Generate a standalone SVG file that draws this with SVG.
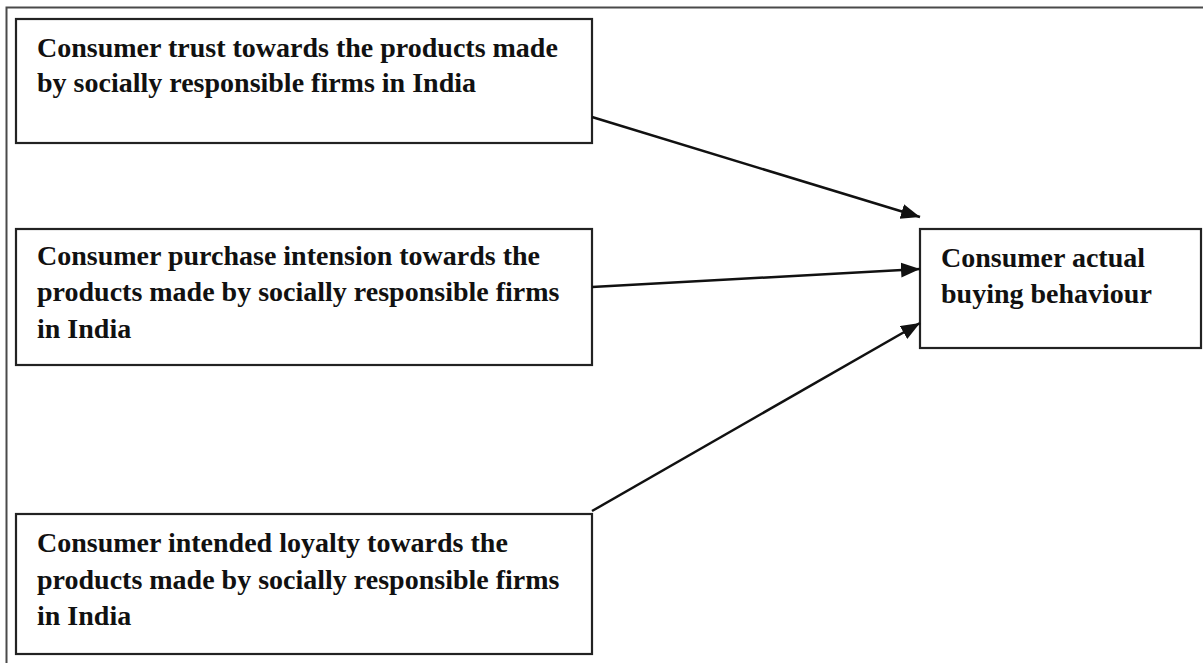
<svg xmlns="http://www.w3.org/2000/svg" width="1203" height="663" viewBox="0 0 1203 663">
<style>
.box{fill:#fff;stroke:#222;stroke-width:2.2}
.t{font-family:"Liberation Serif","Times New Roman",serif;font-weight:bold;font-size:28px;fill:#111}
.c{stroke:#111;stroke-width:2.5;fill:none}
</style>
<defs>
<marker id="ah" markerUnits="userSpaceOnUse" markerWidth="20" markerHeight="16" refX="19" refY="7.5" orient="auto">
<path d="M0,0 L19,7.5 L0,15 z" fill="#111"/>
</marker>
</defs>
<rect width="1203" height="663" fill="#fff"/>
<path d="M6.5,663 V7.5 H1203" fill="none" stroke="#4a4a4a" stroke-width="2"/>
<g id="trust">
<rect class="box" x="16" y="19" width="576" height="124"/>
<text class="t" x="37" y="57">Consumer trust towards the products made</text>
<text class="t" x="37" y="92">by socially responsible firms in India</text>
</g>
<g id="intension">
<rect class="box" x="16" y="229" width="576" height="136"/>
<text class="t" x="37" y="265">Consumer purchase intension towards the</text>
<text class="t" x="37" y="301">products made by socially responsible firms</text>
<text class="t" x="37" y="338">in India</text>
</g>
<g id="loyalty">
<rect class="box" x="16" y="514" width="576" height="140"/>
<text class="t" x="37" y="552">Consumer intended loyalty towards the</text>
<text class="t" x="37" y="589">products made by socially responsible firms</text>
<text class="t" x="37" y="625">in India</text>
</g>
<g id="behaviour">
<rect class="box" x="920" y="229" width="281" height="119"/>
<text class="t" x="941" y="267">Consumer actual</text>
<text class="t" x="941" y="303">buying behaviour</text>
</g>
<g id="connectors">
<line class="c" x1="592" y1="117" x2="920" y2="217" marker-end="url(#ah)"/>
<line class="c" x1="592" y1="287" x2="920" y2="269" marker-end="url(#ah)"/>
<line class="c" x1="592" y1="511" x2="920" y2="323" marker-end="url(#ah)"/>
</g>
</svg>
